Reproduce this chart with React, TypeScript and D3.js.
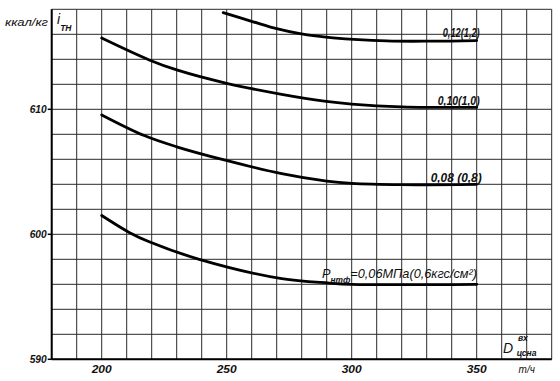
import React from "react";
import * as d3 from "d3";

const W = 560;
const H = 381;

// X: steam flow D (т/ч), Y: enthalpy i_TH (ккал/кг)
const xTicks = [200, 250, 300, 350];
const yTicks = [590, 600, 610];
const xGrid = d3.range(180, 381, 10);
const yGrid = d3.range(590, 619, 2);

const seriesNames = ["0,12(1,2)", "0,10(1,0)", "0,08 (0,8)", "0,06"];

const s012x = [248.6, 260.6, 270, 279.3, 292.5, 314, 332, 350];
const s012y = [617.73, 617.0, 616.45, 616.05, 615.72, 615.47, 615.45, 615.5];

const s010x = [200, 219, 230, 250, 272, 289, 300, 320, 350];
const s010y = [615.7, 613.95, 613.15, 612.08, 611.2, 610.65, 610.42, 610.2, 610.15];

const s008x = [200, 217, 230, 249, 272, 290, 300, 320, 350];
const s008y = [609.55, 607.9, 607.0, 605.95, 604.85, 604.25, 604.07, 603.97, 604.0];

const s006x = [200, 211, 219, 239, 272, 291, 300, 350];
const s006y = [601.5, 600.15, 599.4, 598.0, 596.45, 596.1, 596.0, 596.0];

const seriesX = [s012x, s010x, s008x, s006x];
const seriesY = [s012y, s010y, s008y, s006y];

export default function App() {
  const x = d3.scaleLinear().domain([180, 380]).range([51.7, 551.7]);
  const y = d3.scaleLinear().domain([590, 618]).range([359.3, 9.3]);

  const line = d3
    .line<[number, number]>()
    .x((d) => x(d[0]))
    .y((d) => y(d[1]))
    .curve(d3.curveCatmullRom.alpha(0.5));

  const font = "'Liberation Sans', Arial, sans-serif";
  const ink = "#111";

  const paths = seriesX.map((xs, i) =>
    line(xs.map((v, j) => [v, seriesY[i][j]] as [number, number]))
  );

  const x350 = x(350);
  const yP = y(596.35);

  return (
    <div style={{ position: "fixed", left: 0, top: 0 }}>
      <svg width={W} height={H} style={{ display: "block", background: "#fff" }}>
        {/* grid */}
        <g stroke="#2a2a2a" strokeWidth={1}>
          {xGrid.map((v) => (
            <line key={"vx" + v} x1={x(v)} x2={x(v)} y1={y(618)} y2={y(590)} />
          ))}
          {yGrid.map((v) => (
            <line key={"hy" + v} x1={x(180)} x2={x(380)} y1={y(v)} y2={y(v)} />
          ))}
        </g>
        {/* axes */}
        <g stroke="#000" strokeWidth={2}>
          <line x1={x(180)} x2={x(180)} y1={y(618)} y2={y(590)} />
          <line x1={x(180)} x2={x(380)} y1={y(590)} y2={y(590)} />
          {yTicks.map((v) => (
            <line key={"yt" + v} x1={x(180) - 4} x2={x(180)} y1={y(v)} y2={y(v)} strokeWidth={1.5} />
          ))}
        </g>
        {/* curves */}
        <g fill="none" stroke="#000" strokeWidth={2.8} strokeLinecap="round">
          {paths.map((p, i) => (
            <path key={"c" + i} d={p || ""} />
          ))}
        </g>
        {/* tick labels */}
        <g fontFamily={font} fontStyle="italic" fontWeight="bold" fontSize={10} fill={ink}>
          {yTicks.map((v) => (
            <text key={"yl" + v} x={x(180) - 5} y={y(v) + 4} textAnchor="end" textLength={17} lengthAdjust="spacingAndGlyphs">
              {v}
            </text>
          ))}
          {xTicks.map((v) => (
            <text key={"xl" + v} x={x(v)} y={y(590) + 14} textAnchor="middle" textLength={20} lengthAdjust="spacingAndGlyphs">
              {v}
            </text>
          ))}
          <text x={x(370)} y={y(590) + 14} textAnchor="middle" fontWeight="normal">т/ч</text>
          {/* y axis title */}
          <text x={5} y={26} fontWeight="normal" fontSize={11} textLength={43} lengthAdjust="spacingAndGlyphs">ккал/кг</text>
          <text x={57} y={24} fontWeight="normal" fontSize={14}>
            i<tspan dy={7} fontSize={8.5} fontWeight="bold">ТН</tspan>
          </text>
          {/* x axis title */}
          <text x={x(362.5)} y={y(590) - 6} fontSize={14} fontWeight="normal" textAnchor="middle">D</text>
          <text x={x(366.5)} y={y(590) - 18} fontSize={8.5}>вх</text>
          <text x={x(366)} y={y(590) - 3} fontSize={8.5}>цсна</text>
        </g>
        {/* series labels */}
        <g fontFamily={font} fontStyle="italic" fontWeight="bold" fontSize={12.5} fill={ink}>
          <text x={x350 + 3} y={y(615.75)} textAnchor="end" textLength={37} lengthAdjust="spacingAndGlyphs">{seriesNames[0]}</text>
          <text x={x350 + 3} y={y(610.35)} textAnchor="end" textLength={42} lengthAdjust="spacingAndGlyphs">{seriesNames[1]}</text>
          <text x={x350 + 5} y={y(604.2)} textAnchor="end" textLength={51} lengthAdjust="spacingAndGlyphs">{seriesNames[2]}</text>
          <text x={322} y={yP - 2} fontSize={13} fontWeight="normal" textLength={155} lengthAdjust="spacingAndGlyphs">
            {"P"}
            <tspan dy={5} fontSize={8.5} fontWeight="bold">нтф</tspan>
            <tspan dy={-5}>{"=" + seriesNames[3] + "МПа(0,6кгс/см²)"}</tspan>
          </text>
        </g>
      </svg>
    </div>
  );
}
